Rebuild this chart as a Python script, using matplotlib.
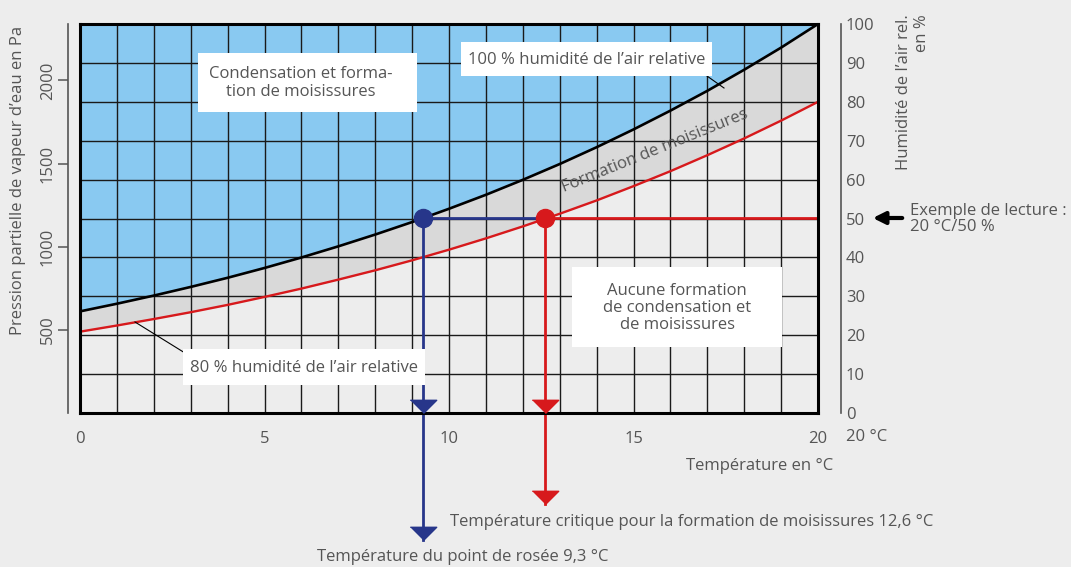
"""
Diagramme de Mollier simplifie : pression partielle de vapeur d'eau vs temperature,
avec lecture du point de rosee et de la temperature critique de moisissures.
"""
import matplotlib.pyplot as plt
import matplotlib.transforms as mtransforms
from matplotlib.lines import Line2D
from matplotlib.patches import Rectangle
from matplotlib.text import Annotation

# ====== DATA ======
TEMP_C = list(range(0, 21))
P_SAT_PA = [611, 657, 706, 758, 813, 872, 935, 1002, 1073, 1148, 1228,
            1312, 1402, 1497, 1598, 1705, 1818, 1937, 2064, 2197, 2339]
P_80_PA = [489, 526, 565, 606, 650, 698, 748, 802, 858, 918, 982,
           1050, 1122, 1198, 1278, 1364, 1454, 1550, 1651, 1758, 1871]
X_TICKS = [0, 5, 10, 15, 20]
P_TICKS = [500, 1000, 1500, 2000]
RH_TICKS = [0, 10, 20, 30, 40, 50, 60, 70, 80, 90, 100]

EXAMPLE_T = 20      # degC
EXAMPLE_RH = 50     # %
EXAMPLE_P = 1170    # Pa
DEW_T = 9.3         # degC
CRIT_T = 12.6       # degC
# ==================

W, H = 1071, 567
BG = '#ededed'
BLUE_FILL = '#89c9f1'
GREY_BAND = '#d9d9d9'
TXT = '#555555'
NAVY = '#27368a'
RED = '#d7191c'
FONT = ['Open Sans', 'DejaVu Sans']
FS = 12

plt.rcParams['font.family'] = FONT
plt.rcParams['font.size'] = FS

fig = plt.figure(figsize=(W / 100, H / 100), dpi=100, facecolor=BG)
PX = mtransforms.Affine2D().scale(1 / W, -1 / H).translate(0, 1) + fig.transFigure

rect = [80 / W, 1 - 413 / H, 738 / W, 389 / H]
ax = fig.add_axes(rect)
ax.set_facecolor(BG)
p_top = P_SAT_PA[-1]
ax.set_xlim(0, 20)
ax.set_ylim(0, p_top)

# zones
ax.fill_between(TEMP_C, P_SAT_PA, p_top, color=BLUE_FILL, lw=0, zorder=1)
ax.fill_between(TEMP_C, P_80_PA, P_SAT_PA, color=GREY_BAND, lw=0, zorder=1)

# quadrillage 1 degC x 10 %
ax.set_xticks(X_TICKS)
ax.set_xticklabels([str(t) for t in X_TICKS], color=TXT)
ax.set_xticks(TEMP_C, minor=True)
ax.set_yticks([])
ax.set_yticks([p_top * r / 100 for r in RH_TICKS], minor=True)
ax.tick_params(which='both', length=0)
ax.tick_params(axis='x', pad=13)
ax.set_axisbelow('line')
ax.grid(which='both', color='#1a1a1a', lw=1.0)
for s in ax.spines.values():
    s.set_linewidth(2.2)
    s.set_color('black')
    s.set_zorder(4)

# courbes
ax.plot(TEMP_C, P_SAT_PA, color='black', lw=1.9, zorder=3)
ax.plot(TEMP_C, P_80_PA, color=RED, lw=1.7, zorder=3)

# lecture de l'exemple
ax.plot([DEW_T, CRIT_T], [EXAMPLE_P, EXAMPLE_P], color=NAVY, lw=2, zorder=3)
ax.plot([CRIT_T, EXAMPLE_T], [EXAMPLE_P, EXAMPLE_P], color=RED, lw=2, zorder=3)

tri = [(-1, 1), (1, 1), (0, 0)]   # triangle pointe en bas, pointe a l'origine
for t, col, depth in [(DEW_T, NAVY, 0.327), (CRIT_T, RED, 0.235)]:
    y_end = -depth * p_top
    ax.plot([t, t], [EXAMPLE_P, y_end], color=col, lw=2, zorder=3, clip_on=False)
    ax.plot([t, t], [0, y_end], ls='none', marker=tri, ms=19, color=col,
            zorder=5, clip_on=False)
    ax.plot([t], [EXAMPLE_P], 'o', ms=13, color=col, zorder=6)

# axe gauche (pression), decale
axl = fig.add_axes(rect)
axl.patch.set_visible(False)
axl.xaxis.set_visible(False)
for side in ['top', 'right', 'bottom']:
    axl.spines[side].set_visible(False)
axl.spines['left'].set_position(('outward', 8.5))
axl.spines['left'].set_color(TXT)
axl.spines['left'].set_linewidth(1.2)
axl.set_ylim(0, p_top)
axl.set_yticks(P_TICKS)
axl.set_yticklabels([str(p) for p in P_TICKS], rotation=90, va='center', color=TXT)
axl.tick_params(axis='y', direction='out', length=7, width=1.1, color=TXT, pad=2)

# axe droit (humidite relative a 20 degC)
ax2 = ax.twinx()
ax2.set_ylim(0, 100)
for side in ['top', 'left', 'bottom']:
    ax2.spines[side].set_visible(False)
ax2.spines['right'].set_position(('outward', 16.5))
ax2.spines['right'].set_color(TXT)
ax2.spines['right'].set_linewidth(1.2)
ax2.set_yticks(RH_TICKS)
ax2.set_yticklabels([str(r) for r in RH_TICKS], color=TXT)
ax2.tick_params(axis='y', length=0, pad=3.5)


def box(x0, y0, x1, y1):
    fig.add_artist(Rectangle((x0, y0), x1 - x0, y1 - y0, transform=PX,
                             facecolor='white', edgecolor='none', zorder=5))


def label(x, y, s, **kw):
    opts = dict(transform=PX, color=TXT, ha='center', va='center', zorder=6)
    opts.update(kw)
    fig.text(x, y, s, **opts)


def leader(x0, y0, x1, y1):
    fig.add_artist(Line2D([x0, x1], [y0, y1], transform=PX, color='black',
                          lw=0.8, zorder=5))


box(198, 53, 417, 112)
label(301, 83, 'Condensation et forma-\ntion de moisissures', linespacing=1.1)

leader(707, 76, 724, 88)
box(461, 42, 712, 76)
label(587, 60, '100 % humidité de l’air relative')

box(572, 267, 782, 347)
label(677, 308, 'Aucune formation\nde condensation et\nde moisissures', linespacing=1.05)

leader(135, 322, 185, 353)
box(183, 349, 425, 385)
label(304, 368, '80 % humidité de l’air relative')

label(655, 151, 'Formation de moisissures', rotation=22, rotation_mode='anchor')

# titres des axes et legendes hors cadre
label(18, 180, 'Pression partielle de vapeur d’eau en Pa', rotation=90)
label(913, 14, 'Humidité de l’air rel.\nen %', rotation=90, va='top',
      multialignment='right', linespacing=1.15)
label(846, 437, '20 °C', ha='left')
label(760, 466, 'Température en °C')
label(450, 522, 'Température critique pour la formation de moisissures 12,6 °C', ha='left')
label(463, 557, 'Température du point de rosée 9,3 °C')
label(910, 219, 'Exemple de lecture :\n20 °C/50 %', ha='left', linespacing=1.05)
fig.add_artist(Annotation(
    '', xy=(870, 218), xytext=(905, 218), xycoords=PX, textcoords=PX,
    arrowprops=dict(arrowstyle='-|>,head_length=0.6,head_width=0.3',
                    color='black', lw=3)))

fig.savefig('out.png', dpi=100, facecolor=BG)
